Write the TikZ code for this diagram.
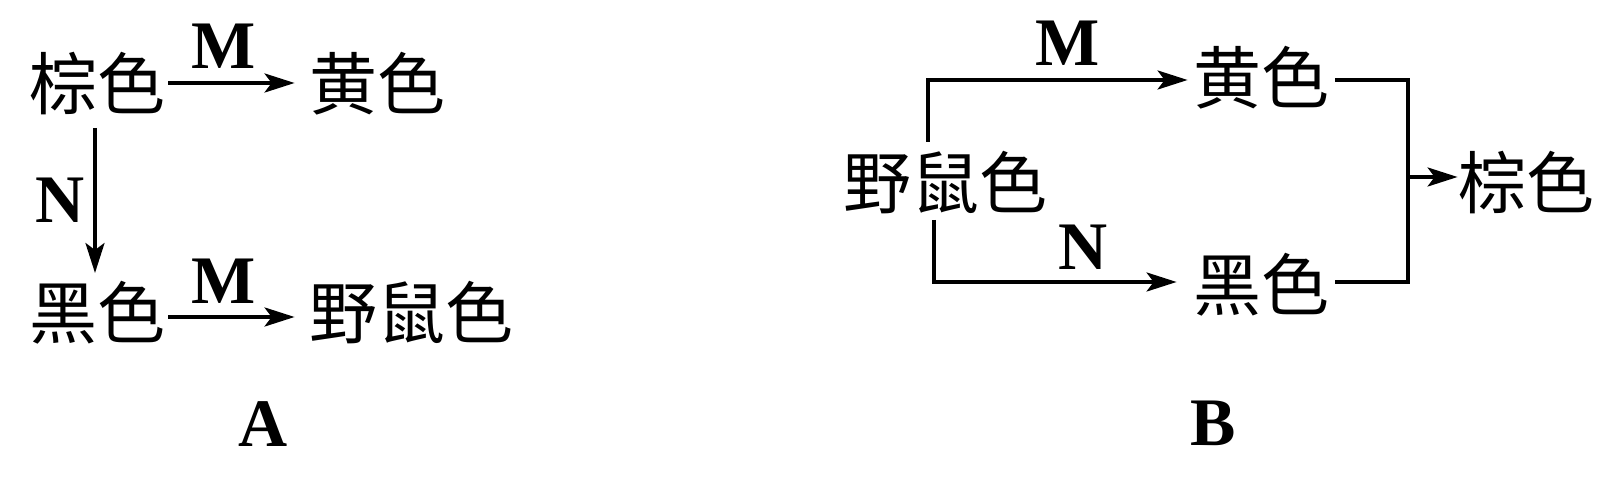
\documentclass[tikz,border=0pt]{standalone}
\usepackage{fontspec}
\setmainfont{Liberation Serif}
\newfontfamily\cjk{Noto Sans CJK SC}
\usetikzlibrary{arrows.meta}
\tikzset{
  cj/.style={inner sep=0pt, font=\fontsize{34pt}{40pt}\selectfont\cjk, text height=28.2pt, text depth=2.4pt},
  lab/.style={inner sep=0pt, font=\fontsize{34pt}{40pt}\selectfont\bfseries, text height=22.5pt, text depth=0pt},
  arr/.style={line width=1.8pt, -{Stealth[length=15pt,width=9.5pt,inset=3.5pt]}},
  ln/.style={line width=1.8pt}
}
\begin{document}
\begin{tikzpicture}[x=0.5pt,y=-0.5pt]
\useasboundingbox (0,0) rectangle (1618,486);
% Panel A
\node[cj] (zA) at (97,84) {棕色};
\node[cj] (hA) at (377,84) {黄色};
\node[cj] (kA) at (97,313) {黑色};
\node[cj] (yA) at (411,313) {野鼠色};
\node[lab] (m1) at (224,46) {M};
\node[lab] (m2) at (224,281) {M};
\node[lab] (n1) at (60,200) {N};
\node[lab] (tA) at (263,424) {A};
\draw[arr] ([shift={(3,-1)}]zA.east) -- ([shift={(-14,-1)}]hA.west);
\draw[arr] ([shift={(-2,13)}]zA.south) -- ([shift={(-2,-9)}]kA.north);
\draw[arr] ([shift={(3,4)}]kA.east) -- ([shift={(-14,4)}]yA.west);
% Panel B
\node[cj] (yB) at (945,183) {野鼠色};
\node[cj] (hB) at (1261,78) {黄色};
\node[cj] (kB) at (1261,285) {黑色};
\node[cj] (zB) at (1526,183) {棕色};
\node[lab] (m3) at (1068,43) {M};
\node[lab] (n2) at (1083,247) {N};
\node[lab] (tB) at (1213,423) {B};
\draw[arr] ([shift={(-17,-10)}]yB.north) |- ([shift={(-5,2)}]hB.west);
\draw[arr] ([shift={(-11,6)}]yB.south) |- ([shift={(-16,-3)}]kB.west);
\coordinate (hE) at ([shift={(6,2)}]hB.east);
\coordinate (kE) at ([shift={(6,-3)}]kB.east);
\coordinate (jt) at (1408,80);
\coordinate (zW) at ([shift={(0,-6)}]zB.west);
\draw[ln] (hE) -- (jt) -- (jt |- kE) -- (kE);
\draw[arr] (jt |- zW) -- (zW);
\end{tikzpicture}
\end{document}
